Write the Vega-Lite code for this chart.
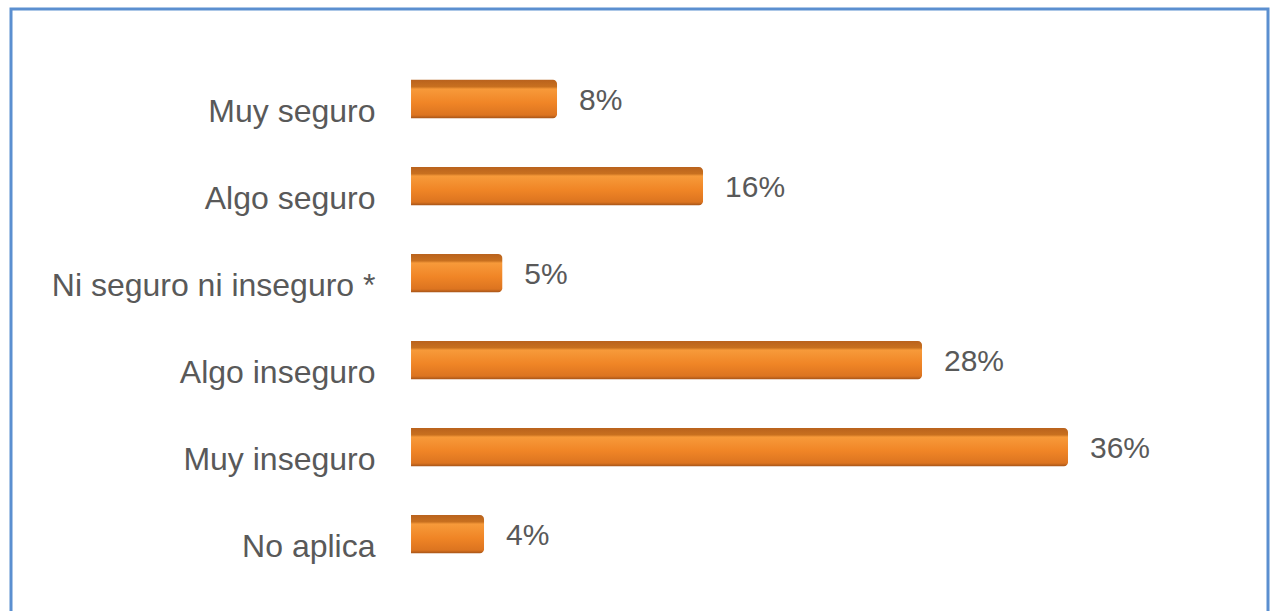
{
  "$schema": "https://vega.github.io/schema/vega-lite/v6.json",
  "width": 1257,
  "height": 612,
  "autosize": "none",
  "padding": {"left": 11, "top": 9, "right": 4, "bottom": 0},
  "background": "white",
  "config": {
    "view": {"stroke": "#5b8fd0", "strokeWidth": 3},
    "font": "Liberation Sans"
  },
  "data": {
    "values": [
      {"categoria": "Muy seguro", "valor": 8, "etiqueta": "8%"},
      {"categoria": "Algo seguro", "valor": 16, "etiqueta": "16%"},
      {"categoria": "Ni seguro ni inseguro *", "valor": 5, "etiqueta": "5%"},
      {"categoria": "Algo inseguro", "valor": 28, "etiqueta": "28%"},
      {"categoria": "Muy inseguro", "valor": 36, "etiqueta": "36%"},
      {"categoria": "No aplica", "valor": 4, "etiqueta": "4%"}
    ]
  },
  "encoding": {
    "y": {
      "field": "categoria",
      "type": "nominal",
      "sort": null,
      "scale": {"paddingInner": 0.56, "paddingOuter": 0.797, "align": 0.511},
      "axis": {
        "title": null,
        "domain": false,
        "ticks": false,
        "offset": -400,
        "labelPadding": 36,
        "labelFontSize": 32,
        "labelColor": "#595959",
        "labelOffset": 13,
        "labelLimit": 0,
        "labelFont": "Liberation Sans"
      }
    }
  },
  "layer": [
    {
      "mark": {
        "type": "bar",
        "fill": {
          "gradient": "linear",
          "x1": 0, "y1": 0, "x2": 0, "y2": 1,
          "stops": [
            {"offset": 0, "color": "#b9621d"},
            {"offset": 0.18, "color": "#c8701f"},
            {"offset": 0.24, "color": "#f79a3a"},
            {"offset": 0.6, "color": "#f08526"},
            {"offset": 0.92, "color": "#dc7420"},
            {"offset": 1, "color": "#a85518"}
          ]
        },
        "cornerRadiusTopRight": 4,
        "cornerRadiusBottomRight": 4
      },
      "encoding": {
        "x": {
          "field": "valor",
          "type": "quantitative",
          "scale": {"domain": [-21.92, 46.96], "nice": false, "zero": false},
          "axis": null
        },
        "x2": {"datum": 0}
      }
    },
    {
      "mark": {
        "type": "text",
        "align": "left",
        "baseline": "middle",
        "dx": 22,
        "dy": 2,
        "fontSize": 30,
        "color": "#595959",
        "font": "Liberation Sans"
      },
      "encoding": {
        "x": {"field": "valor", "type": "quantitative"},
        "text": {"field": "etiqueta"}
      }
    }
  ]
}
